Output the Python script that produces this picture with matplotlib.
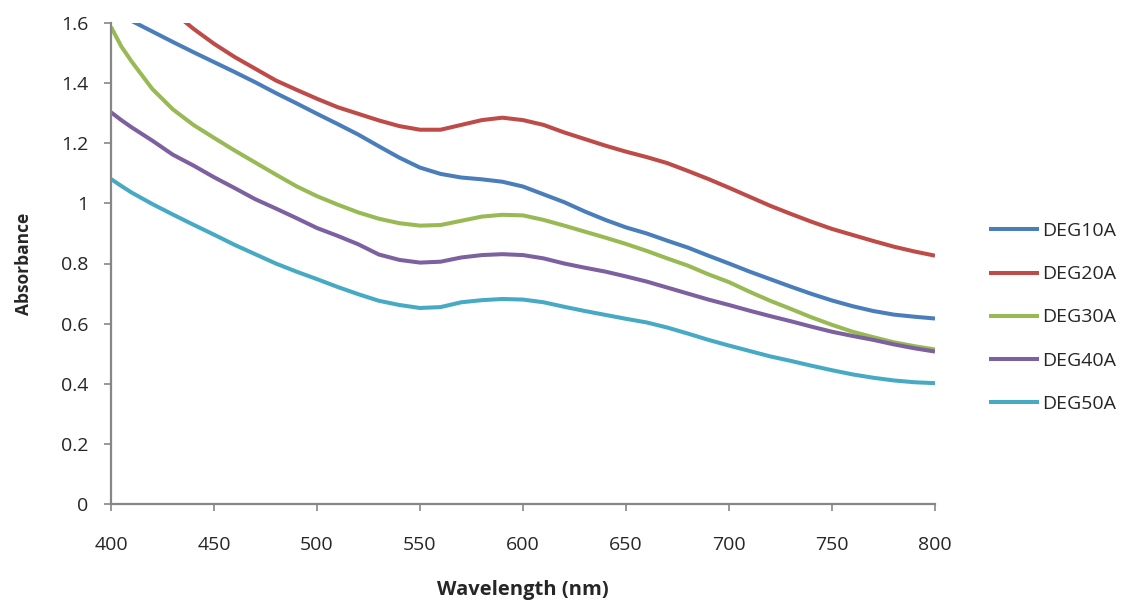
import matplotlib
matplotlib.use("Agg")
import matplotlib.pyplot as plt

wavelength = [400, 405, 410, 420, 430, 440, 450, 460, 470, 480, 490, 500, 510, 520, 530,
              540, 550, 560, 570, 580, 590, 600, 610, 620, 630, 640, 650, 660,
              670, 680, 690, 700, 710, 720, 730, 740, 750, 760, 770, 780, 790, 800]

deg10a = [1.640, 1.623, 1.607, 1.572, 1.537, 1.503, 1.470, 1.437, 1.403, 1.367, 1.333, 1.298, 1.264, 1.229, 1.190,
          1.152, 1.119, 1.098, 1.086, 1.080, 1.072, 1.056, 1.030, 1.004, 0.973, 0.945, 0.920, 0.900,
          0.876, 0.853, 0.826, 0.800, 0.773, 0.748, 0.723, 0.699, 0.677, 0.658, 0.642, 0.630, 0.623, 0.617]
deg20a = [1.850, 1.810, 1.770, 1.700, 1.637, 1.581, 1.531, 1.487, 1.448, 1.409, 1.378, 1.348, 1.320, 1.298, 1.276,
          1.257, 1.245, 1.245, 1.261, 1.277, 1.285, 1.277, 1.261, 1.236, 1.214, 1.192, 1.172, 1.154,
          1.134, 1.108, 1.081, 1.052, 1.022, 0.992, 0.965, 0.939, 0.915, 0.895, 0.875, 0.856, 0.840, 0.826]
deg30a = [1.587, 1.522, 1.472, 1.381, 1.313, 1.261, 1.218, 1.176, 1.136, 1.096, 1.057, 1.024, 0.996, 0.970, 0.949,
          0.934, 0.926, 0.928, 0.942, 0.956, 0.962, 0.960, 0.945, 0.926, 0.906, 0.886, 0.865, 0.842,
          0.817, 0.793, 0.764, 0.738, 0.706, 0.676, 0.649, 0.621, 0.596, 0.573, 0.555, 0.538, 0.525, 0.514]
deg40a = [1.303, 1.277, 1.253, 1.209, 1.162, 1.126, 1.087, 1.051, 1.014, 0.983, 0.951, 0.918, 0.892, 0.864, 0.830,
          0.812, 0.803, 0.806, 0.820, 0.828, 0.831, 0.828, 0.817, 0.800, 0.786, 0.773, 0.757, 0.740,
          0.720, 0.700, 0.680, 0.662, 0.643, 0.625, 0.608, 0.590, 0.573, 0.559, 0.546, 0.531, 0.518, 0.507]
deg50a = [1.081, 1.058, 1.036, 0.998, 0.963, 0.929, 0.896, 0.862, 0.831, 0.800, 0.773, 0.748, 0.722, 0.698, 0.676,
          0.662, 0.652, 0.655, 0.671, 0.678, 0.682, 0.680, 0.671, 0.656, 0.642, 0.629, 0.616, 0.604,
          0.587, 0.567, 0.546, 0.527, 0.509, 0.491, 0.476, 0.460, 0.445, 0.431, 0.420, 0.411, 0.405, 0.402]

series_names = ["DEG10A", "DEG20A", "DEG30A", "DEG40A", "DEG50A"]
series_values = [deg10a, deg20a, deg30a, deg40a, deg50a]
colors = ["#4A7EBB", "#BE4B48", "#98B954", "#7D60A0", "#46AAC5"]

x_ticks = [400, 450, 500, 550, 600, 650, 700, 750, 800]
y_ticks = [0, 0.2, 0.4, 0.6, 0.8, 1.0, 1.2, 1.4, 1.6]
y_tick_labels = ["0", "0.2", "0.4", "0.6", "0.8", "1", "1.2", "1.4", "1.6"]

plt.rcParams["font.family"] = ["Open Sans", "DejaVu Sans"]

W, H = 1136, 607
fig = plt.figure(figsize=(W / 100, H / 100), dpi=100)
ax = fig.add_axes([111 / W, 1 - 504 / H, (935 - 111) / W, (504 - 23) / H])

for name, vals, c in zip(series_names, series_values, colors):
    ax.plot(wavelength, vals, color=c, lw=2.9, label=name,
            solid_capstyle="butt", solid_joinstyle="round")

ax.set_xlim(400, 800)
ax.set_ylim(0, 1.6)
ax.set_xticks(x_ticks)
ax.set_yticks(y_ticks)
ax.set_yticklabels(y_tick_labels)

grey = "#868686"
txt = "#262626"
for s in ["top", "right"]:
    ax.spines[s].set_visible(False)
for s in ["left", "bottom"]:
    ax.spines[s].set_color(grey)
    ax.spines[s].set_linewidth(1.6)
ax.tick_params(axis="both", direction="out", length=5, width=1.2, color=grey,
               labelsize=14, labelcolor=txt)
ax.tick_params(axis="x", pad=18)
ax.tick_params(axis="y", pad=11.5)

ax.set_xlabel("Wavelength (nm)", fontsize=14.5, fontweight="bold", color=txt, labelpad=18)
ax.set_ylabel("Absorbance", fontsize=12.5, fontweight="bold", color=txt, labelpad=10)
ax.xaxis.set_label_coords(0.5, -(590 - 504) / (504 - 23), transform=ax.transAxes)
ax.xaxis.label.set_va("center")
ax.yaxis.set_label_coords(-(111 - 24) / (935 - 111), 0.5, transform=ax.transAxes)
ax.yaxis.label.set_va("center")

leg = fig.legend(loc="upper left", bbox_to_anchor=(981 / W, 1 - 214.5 / H),
                 frameon=False, fontsize=14, handlelength=2.6, handletextpad=0.15,
                 labelspacing=1.29, borderaxespad=0)
for t in leg.get_texts():
    t.set_color(txt)

fig.savefig("out.png", dpi=100, facecolor="white")
